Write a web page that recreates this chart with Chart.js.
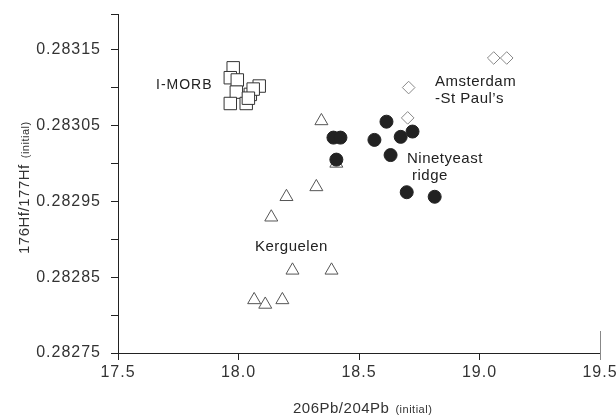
<!DOCTYPE html>
<html>
<head>
<meta charset="utf-8">
<script src="https://cdn.jsdelivr.net/npm/chart.js@4/dist/chart.umd.min.js"></script>
<style>
  html, body { margin: 0; padding: 0; background: #fff; }
  #wrap { width: 616px; height: 416px; }
</style>
</head>
<body>
<div id="wrap"><canvas id="chart"></canvas></div>
<script>
'use strict';

// Axis ticks
const xTicks = [17.5, 18.0, 18.5, 19.0, 19.5];
const yTicks = [0.28275, 0.2828, 0.28285, 0.2829, 0.28295, 0.283, 0.28305, 0.2831, 0.28315];
const yLabelled = [0.28275, 0.28285, 0.28295, 0.28305, 0.28315];

// Ninetyeast ridge (filled circles)
const ninetyPb = [18.614, 18.394, 18.423, 18.564, 18.673, 18.722, 18.631, 18.406, 18.698, 18.814];
const ninetyHf = [0.283055, 0.283034, 0.283034, 0.283031, 0.283035, 0.283042, 0.283011, 0.283005, 0.282962, 0.282956];

// Kerguelen (open triangles)
const kergPb = [18.344, 18.323, 18.199, 18.136, 18.224, 18.386, 18.065, 18.111, 18.182, 18.406];
const kergHf = [0.283056, 0.282969, 0.282956, 0.282929, 0.282859, 0.282859, 0.282820, 0.282814, 0.282820, 0.283000];

// I-MORB (open squares)
const morbPb = [17.978, 17.966, 17.995, 18.086, 17.991, 18.049, 17.966, 18.032, 18.061, 18.041];
const morbHf = [0.283126, 0.283113, 0.283110, 0.283102, 0.283094, 0.283091, 0.283079, 0.283079, 0.283098, 0.283086];

// Amsterdam - St Paul's (open diamonds)
const amsPb = [19.059, 19.113, 18.706, 18.702];
const amsHf = [0.283139, 0.283139, 0.283100, 0.283060];

const pts = (xs, ys) => xs.map((x, i) => ({ x, y: ys[i] }));

const FONT = "'Liberation Sans', Arial, sans-serif";
const INK = '#222';

// Text labels inside the plot and the axis titles (two sizes each)
const textPlugin = {
  id: 'texts',
  beforeDraw(chart) {
    chart.ctx.letterSpacing = '1px';
  },
  afterDraw(chart) {
    const ctx = chart.ctx;
    ctx.save();
    ctx.letterSpacing = '1px';
    ctx.fillStyle = INK;
    ctx.textAlign = 'left';
    ctx.textBaseline = 'alphabetic';

    ctx.font = `14px ${FONT}`;
    ctx.fillText('I-MORB', 156, 89);
    ctx.letterSpacing = '0.5px';
    ctx.font = `15px ${FONT}`;
    ctx.fillText('Amsterdam', 435, 86);
    ctx.fillText('-St Paul\u2019s', 435, 103);
    ctx.fillText('Ninetyeast', 407, 163);
    ctx.fillText('ridge', 412, 180);
    ctx.fillText('Kerguelen', 255, 251);

    // x title
    ctx.fillStyle = '#333';
    ctx.font = `15px ${FONT}`;
    const xMain = '206Pb/204Pb';
    ctx.fillText(xMain, 293, 413);
    const w = ctx.measureText(xMain).width;
    ctx.font = `11px ${FONT}`;
    ctx.fillText('(initial)', 293 + w + 6, 413);

    // y title
    ctx.translate(29, 254);
    ctx.rotate(-Math.PI / 2);
    ctx.font = `15px ${FONT}`;
    const yMain = '176Hf/177Hf';
    ctx.fillText(yMain, 0, 0);
    const wy = ctx.measureText(yMain).width;
    ctx.font = `11px ${FONT}`;
    ctx.fillText('(initial)', wy + 6, 0);
    ctx.restore();

    // stub line at the right end of the x axis
    const a = chart.chartArea;
    ctx.save();
    ctx.strokeStyle = '#888';
    ctx.lineWidth = 1;
    ctx.beginPath();
    ctx.moveTo(Math.round(a.right) + 0.5, a.bottom - 22);
    ctx.lineTo(Math.round(a.right) + 0.5, a.bottom + 7);
    ctx.stroke();
    ctx.restore();
  }
};

new Chart(document.getElementById('chart'), {
  type: 'scatter',
  data: {
    datasets: [
      {
        label: 'Ninetyeast ridge',
        data: pts(ninetyPb, ninetyHf),
        pointStyle: 'circle',
        pointRadius: 6.5,
        backgroundColor: '#222',
        borderColor: '#222',
        borderWidth: 1,
      },
      {
        label: 'Kerguelen',
        data: pts(kergPb, kergHf),
        pointStyle: 'triangle',
        pointRadius: 7.5,
        backgroundColor: '#fff',
        borderColor: '#555',
        borderWidth: 1,
      },
      {
        label: 'I-MORB',
        data: pts(morbPb, morbHf),
        pointStyle: 'rect',
        pointRadius: 8.8,
        backgroundColor: '#fff',
        borderColor: '#333',
        borderWidth: 1,
      },
      {
        label: "Amsterdam-St Paul's",
        data: pts(amsPb, amsHf),
        pointStyle: 'rectRot',
        pointRadius: 6.3,
        backgroundColor: '#fff',
        borderColor: '#888',
        borderWidth: 1,
      },
    ],
  },
  options: {
    responsive: true,
    maintainAspectRatio: false,
    animation: false,
    layout: { padding: { left: 0, right: 16, top: 14, bottom: 0 } },
    plugins: {
      legend: { display: false },
      tooltip: { enabled: false },
    },
    scales: {
      x: {
        type: 'linear',
        min: 17.5,
        max: 19.5,
        afterBuildTicks: (s) => { s.ticks = xTicks.map(v => ({ value: v })); },
        afterFit: (s) => { s.height = 63; s.paddingLeft = 0; s.paddingRight = 0; },
        grid: { drawOnChartArea: false, tickLength: 7, color: INK },
        border: { color: INK, width: 1 },
        ticks: {
          color: '#333',
          padding: 3,
          maxRotation: 0,
          font: { family: FONT, size: 16 },
          callback: (v) => Number(v).toFixed(1),
        },
      },
      y: {
        type: 'linear',
        min: 0.28275,
        max: 0.283197,
        afterBuildTicks: (s) => {
          s.ticks = yTicks.map(v => ({ value: v })).concat([{ value: 0.283197 }]);
        },
        afterFit: (s) => { s.width = 118; s.paddingTop = 0; s.paddingBottom = 0; },
        grid: { drawOnChartArea: false, tickLength: 7, color: INK },
        border: { color: INK, width: 1 },
        ticks: {
          color: '#333',
          padding: 10,
          font: { family: FONT, size: 16 },
          callback: (v) => {
            const hit = yLabelled.some(t => Math.abs(t - v) < 1e-9);
            return hit ? Number(v).toFixed(5) : '';
          },
        },
      },
    },
  },
  plugins: [textPlugin],
});
</script>
</body>
</html>
